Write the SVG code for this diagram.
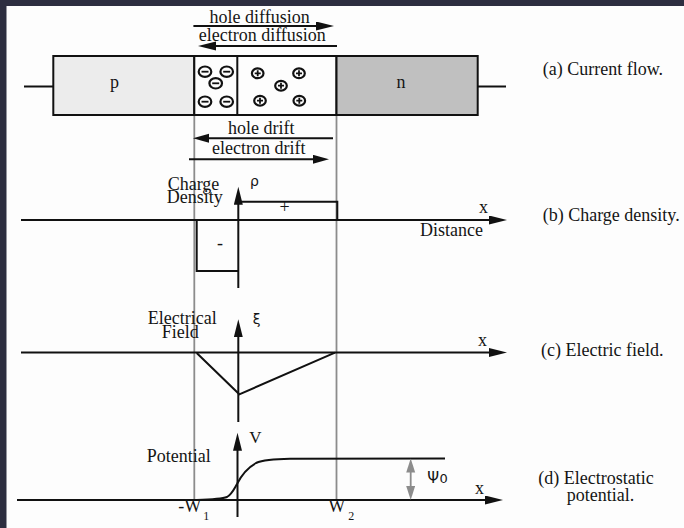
<svg xmlns="http://www.w3.org/2000/svg" width="684" height="528" viewBox="0 0 684 528">
<defs>
<style>
text{font-family:"Liberation Serif","Times New Roman",serif;font-size:18px;fill:#151515}
.g{font-family:"DejaVu Sans",sans-serif;font-size:14px}
.ln{stroke:#111;stroke-width:2;fill:none}
.gr{stroke:#8c8c8c;stroke-width:1.8;fill:none}
.ion{fill:none;stroke:#111;stroke-width:2.2}
.sg{stroke:#111;stroke-width:1.8}
</style>
<marker id="ah" markerUnits="userSpaceOnUse" markerWidth="19" markerHeight="10" refX="8" refY="4.5" orient="auto" viewBox="0 0 19 10">
<path d="M0,0 L18,4.5 L0,9 z" fill="#111"/>
</marker>
<marker id="ahs" markerUnits="userSpaceOnUse" markerWidth="17" markerHeight="10" refX="6" refY="4.5" orient="auto" viewBox="0 0 17 10">
<path d="M0,0 L16,4.5 L0,9 z" fill="#111"/>
</marker>
<marker id="gh" markerUnits="userSpaceOnUse" markerWidth="15" markerHeight="10" refX="4" refY="4.5" orient="auto-start-reverse" viewBox="0 0 15 10">
<path d="M0,0 L14,4.5 L0,9 z" fill="#8c8c8c"/>
</marker>
</defs>
<rect x="0" y="0" width="684" height="528" fill="#2d2e40"/>
<rect x="6.5" y="6" width="677.5" height="522" fill="#fdfdfd"/>

<g id="guides">
<line class="gr" x1="194.3" y1="116" x2="194.3" y2="500"/>
<line class="gr" x1="336.5" y1="116" x2="336.5" y2="500"/>
</g>

<g id="junction">
<line class="ln" x1="24" y1="86.5" x2="53.3" y2="86.5"/>
<line class="ln" x1="477.7" y1="86.5" x2="506" y2="86.5"/>
<rect id="p-region" x="53.3" y="56" width="141" height="59" fill="#ececec" stroke="#111" stroke-width="2"/>
<rect id="depletion" x="194.3" y="56" width="142.2" height="59" fill="#fdfdfd" stroke="#111" stroke-width="2"/>
<line class="ln" x1="237.3" y1="56" x2="237.3" y2="115"/>
<rect id="n-region" x="336.5" y="56" width="141.2" height="59" fill="#c0c0c0" stroke="#111" stroke-width="2"/>
<text x="114.5" y="88" text-anchor="middle">p</text>
<text x="401" y="87.5" text-anchor="middle">n</text>
<g id="neg-ions">
<ellipse class="ion" cx="205" cy="71.7" rx="6.3" ry="5.2"/><line class="sg" x1="201.5" y1="71.7" x2="208.5" y2="71.7"/>
<ellipse class="ion" cx="226.7" cy="71.7" rx="6.3" ry="5.2"/><line class="sg" x1="223.2" y1="71.7" x2="230.2" y2="71.7"/>
<ellipse class="ion" cx="215.7" cy="83.3" rx="6.3" ry="5.2"/><line class="sg" x1="212.2" y1="83.3" x2="219.2" y2="83.3"/>
<ellipse class="ion" cx="205" cy="101.7" rx="6.3" ry="5.2"/><line class="sg" x1="201.5" y1="101.7" x2="208.5" y2="101.7"/>
<ellipse class="ion" cx="226.7" cy="101.7" rx="6.3" ry="5.2"/><line class="sg" x1="223.2" y1="101.7" x2="230.2" y2="101.7"/>
</g>
<g id="pos-ions">
<ellipse class="ion" cx="257.7" cy="73.3" rx="5.8" ry="4.9"/><path class="sg" d="M254.7,73.3h6M257.7,70.3v6"/>
<ellipse class="ion" cx="299" cy="73.3" rx="5.8" ry="4.9"/><path class="sg" d="M296,73.3h6M299,70.3v6"/>
<ellipse class="ion" cx="281" cy="85.7" rx="5.8" ry="4.9"/><path class="sg" d="M278,85.7h6M281,82.7v6"/>
<ellipse class="ion" cx="260" cy="100.7" rx="5.8" ry="4.9"/><path class="sg" d="M257,100.7h6M260,97.7v6"/>
<ellipse class="ion" cx="299.3" cy="100.7" rx="5.8" ry="4.9"/><path class="sg" d="M296.3,100.7h6M299.3,97.7v6"/>
</g>
</g>

<g id="connectors">
<line class="ln" x1="193.4" y1="26" x2="324" y2="26" marker-end="url(#ah)"/>
<line class="ln" x1="337" y1="46" x2="208" y2="46" marker-end="url(#ah)"/>
<line class="ln" x1="333" y1="138.3" x2="203" y2="138.3" marker-end="url(#ahs)"/>
<line class="ln" x1="189" y1="159.3" x2="319" y2="159.3" marker-end="url(#ahs)"/>
</g>
<g id="flow-labels">
<text x="209.6" y="22.7">hole diffusion</text>
<text x="198.7" y="40.7">electron diffusion</text>
<text x="228" y="134">hole drift</text>
<text x="212" y="153.5">electron drift</text>
</g>

<g id="charge-density">
<line class="ln" x1="21" y1="220" x2="497" y2="220" marker-end="url(#ah)"/>
<line class="ln" x1="238.3" y1="288" x2="238.3" y2="196.7" marker-end="url(#ah)"/>
<polyline class="ln" points="238.3,201.7 337.3,201.7 337.3,220"/>
<polyline class="ln" points="196.7,220 196.7,271 238.3,271"/>
<text x="167.7" y="190">Charge</text>
<text x="166.7" y="203.3">Density</text>
<text class="g" x="250" y="186">ρ</text>
<text x="284.7" y="212.5" text-anchor="middle">+</text>
<text x="220" y="249.3" text-anchor="middle">-</text>
<text x="479" y="213.3">x</text>
<text x="420" y="236">Distance</text>
</g>

<g id="electric-field">
<line class="ln" x1="21" y1="352.5" x2="497" y2="352.5" marker-end="url(#ah)"/>
<line class="ln" x1="238.3" y1="422" x2="238.3" y2="329.3" marker-end="url(#ah)"/>
<polyline class="ln" points="196.7,353 239.3,394.3 335,352.7"/>
<text x="147.7" y="324.3">Electrical</text>
<text x="161.7" y="338.3">Field</text>
<text class="g" x="252.7" y="324">ξ</text>
<text x="478" y="346">x</text>
</g>

<g id="potential">
<line class="ln" x1="17" y1="500" x2="493" y2="500" marker-end="url(#ah)"/>
<line class="ln" x1="237.5" y1="517" x2="237.5" y2="442.7" marker-end="url(#ah)"/>
<path class="ln" d="M196.7,500 C212,499.5 222,499 227,497 C232,494 234,489 237,484 C241,476 247,468 256,463 C264,459.5 275,459 290,458.8 L445,458.5"/>
<line class="gr" x1="410.7" y1="490" x2="410.7" y2="468.5" marker-start="url(#gh)" marker-end="url(#gh)"/>
<text x="146.7" y="461.7">Potential</text>
<text x="249.3" y="443.3" style="font-size:17px">V</text>
<text x="178.3" y="511.7">-W</text><text x="203.3" y="520" style="font-size:12px">1</text>
<text x="328.3" y="511.7">W</text><text x="348.3" y="520" style="font-size:12px">2</text>
<text class="g" x="427.3" y="483" style="font-size:15px">Ψ</text><text class="g" x="439.5" y="483" style="font-size:13px">0</text>
<text x="475" y="494">x</text>
</g>

<g id="captions">
<text x="542.7" y="75">(a) Current flow.</text>
<text x="542.7" y="221">(b) Charge density.</text>
<text x="541" y="356">(c) Electric field.</text>
<text x="538.3" y="484">(d) Electrostatic</text>
<text x="566.7" y="500.7">potential.</text>
</g>
</svg>
